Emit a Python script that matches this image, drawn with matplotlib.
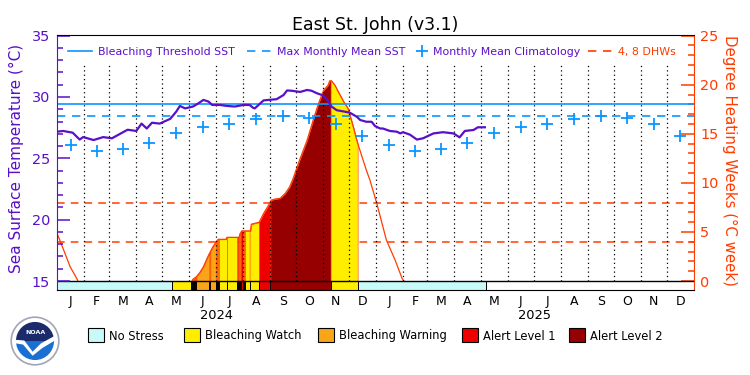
import numpy as np
import pandas as pd
import matplotlib
matplotlib.use('Agg')
import matplotlib.pyplot as plt
from matplotlib.patches import Rectangle, Circle, Wedge, Polygon
from matplotlib.ticker import MultipleLocator

# all x values are days counted from 2024-01-01
sst_days = [0, 7, 18, 26, 30, 42, 53, 63, 72, 81, 91, 97, 103, 109, 118, 124, 130, 137, 141, 147,
            156, 162, 168, 174, 178, 187, 195, 204, 214, 221, 225, 227, 237, 252, 260, 264, 269, 279,
            287, 292, 298, 304, 309, 315, 321, 329, 336, 344, 348, 355, 361, 365, 371, 374, 382, 390,
            394, 397, 405, 413, 420, 432, 443, 455, 462, 468, 478, 483, 491]
sst_vals = [27.17, 27.23, 27.09, 26.53, 26.73, 26.49, 26.73, 26.63, 26.98, 27.33, 27.23, 27.83, 27.43,
            27.90, 27.83, 28.03, 28.22, 28.82, 29.27, 29.07, 29.22, 29.47, 29.76, 29.62, 29.35, 29.35,
            29.27, 29.22, 29.35, 29.35, 29.12, 29.07, 29.72, 29.82, 30.16, 30.53, 30.51, 30.41, 30.57,
            30.51, 30.31, 30.16, 29.88, 29.22, 28.92, 28.82, 28.72, 28.39, 28.12, 27.98, 27.98, 27.63,
            27.43, 27.43, 27.23, 27.17, 27.03, 27.13, 26.93, 26.53, 26.63, 27.03, 27.13, 27.03, 26.71,
            27.23, 27.31, 27.53, 27.53]

dhw_days_early = [0, 3, 9, 15, 20, 23, 24]
dhw_early = [4.86, 4.22, 2.85, 1.47, 0.69, 0.2, 0.0]
dhw_days = [155, 156, 160, 164, 168, 171, 174, 179, 183, 185, 194, 195, 209, 210, 212, 222, 223,
            232, 237, 243, 246, 250, 256, 262, 267, 271, 273, 279, 287, 294, 300, 306, 311, 313,
            315, 319, 323, 329, 334, 340, 344, 350, 355, 359, 367, 378, 388, 396, 398]
dhw_vals = [0, 0.18, 0.44, 0.88, 1.45, 2.06, 2.65, 3.5, 4.03, 4.25, 4.25, 4.45, 4.45, 4.81, 5.11,
            5.11, 5.79, 5.99, 6.87, 7.76, 8.25, 8.35, 8.43, 8.94, 9.6, 10.46, 10.97, 12.47, 14.34,
            16.4, 18.07, 19.44, 19.93, 20.4, 20.4, 19.93, 19.25, 18.27, 17.58, 15.71, 14.34, 12.67,
            11.29, 10.31, 7.91, 4.17, 2.14, 0.27, 0]

clim = [26.09, 25.62, 25.74, 26.27, 27.03, 27.58, 27.80, 28.17, 28.42, 28.27, 27.80, 26.83]
month_letters = list('JFMAMJJASOND')
years = ['2024', '2025']
threshold = 29.42
mmm = 28.42
dhw_marks = [4, 8]

# daily stress level: 0 no stress, 1 watch, 2 warning, 3 alert 1, 4 alert 2
stress_start = [0, 132, 154, 155, 156, 157, 158, 159, 160, 175, 176, 183, 184, 185, 186, 195,
                206, 207, 208, 209, 210, 211, 214, 215, 216, 221, 232, 245, 314, 345]
stress_end = stress_start[1:] + [492]
stress_level = [0, 1, 2, 1, 1, 2, 1, 2, 2, 1, 2, 1, 2, 1, 1, 1,
                2, 1, 3, 1, 2, 3, 1, 2, 1, 1, 3, 4, 1, 0]
stress_names = ['No Stress', 'Bleaching Watch', 'Bleaching Warning', 'Alert Level 1', 'Alert Level 2']
stress_colors = ['#c8fafa', '#ffee00', '#f9a51a', '#ee0000', '#960000']

purple = '#5a0fc8'
blue = '#0a96ff'
red = '#ff3c00'

fig = plt.figure(figsize=(7.5, 3.75), dpi=100)
ax = fig.add_axes([57/750, 1-290/375, 637/750, 255/375])
ax2 = ax.twinx()
ax.set_zorder(ax2.get_zorder() + 1)
ax.patch.set_visible(False)

sst_lo, sst_hi = 14.27, 35.05
ax.set_xlim(0, 731)
ax.set_ylim(sst_lo, sst_hi)
ax2.set_ylim((sst_lo - 15) * 1.25, (sst_hi - 15) * 1.25)

month_starts = pd.date_range('2024-01-01', '2026-01-01', freq='MS')
start_days = (month_starts - month_starts[0]).days.values
mid_days = (start_days[:-1] + start_days[1:]) / 2

# DHW side (drawn underneath)
for v in dhw_marks:
    ax2.axhline(v, color=red, lw=1.1, ls=(0, (5, 4)), zorder=1)
for s, e, lvl in zip(stress_start, stress_end, stress_level):
    if lvl == 0:
        continue
    xs = np.r_[s, [d for d in dhw_days if s < d < e], e]
    ys = np.interp(xs, dhw_days, dhw_vals)
    ax2.fill_between(xs, 0, ys, facecolor=stress_colors[lvl], edgecolor=red, lw=0.4, zorder=2)
ax2.plot(dhw_days_early, dhw_early, color=red, lw=0.9, zorder=3)
ax2.plot(dhw_days, dhw_vals, color=red, lw=0.9, zorder=3)
bar_lo = (sst_lo - 15) * 1.25
for s, e, lvl in zip(stress_start, stress_end, stress_level):
    ax2.add_patch(Rectangle((s, bar_lo), e - s, -bar_lo, facecolor=stress_colors[lvl],
                            edgecolor='k', lw=0.7, zorder=4))
ax2.axhline(0, color='k', lw=1.0, zorder=5)

# SST side
ax.vlines(start_days[1:-1], 15, 32.8, colors='k', linestyles=[(0, (1, 2.5))], lw=0.9, zorder=1)
ax.axhline(threshold, color=blue, lw=1.2, zorder=2)
ax.axhline(mmm, color=blue, lw=1.2, ls=(0, (5, 4)), zorder=2)
ax.plot(mid_days, clim * 2, ls='none', marker='+', color=blue, ms=9, mew=1.3, zorder=3)
ax.plot(sst_days, sst_vals, color=purple, lw=1.6, zorder=4)

# axes styling
for sp in ax2.spines.values():
    sp.set_visible(False)
ax.spines['left'].set_color(purple)
ax.spines['right'].set_color(red)
ax.spines['top'].set_color('k')
ax.spines['bottom'].set_color('k')

ax.set_yticks([15, 20, 25, 30, 35])
ax.yaxis.set_minor_locator(MultipleLocator(1))
ax.tick_params(axis='y', which='major', direction='in', length=9.5, width=1.1,
               color=purple, labelcolor=purple, labelsize=10.4, pad=5, right=False)
ax.tick_params(axis='y', which='minor', direction='in', length=4.5, width=1.1,
               color=purple, right=False)
ax2.set_yticks([0, 5, 10, 15, 20, 25])
ax2.yaxis.set_minor_locator(MultipleLocator(1))
ax2.tick_params(axis='y', which='major', direction='in', length=9.5, width=1.1,
                color=red, labelcolor=red, labelsize=10.4, pad=4.5)
ax2.tick_params(axis='y', which='minor', direction='in', length=4.5, width=1.1, color=red)

ax.set_xticks(mid_days)
ax.set_xticklabels(month_letters * 2)
ax.tick_params(axis='x', length=0, pad=3.5, labelsize=9)
for i, yr in enumerate(years):
    fig.text((57 + 637 * (0.25 + 0.5 * i)) / 750, 1 - 319/375, yr, ha='center',
             va='baseline', fontsize=9.4)

ax.text(-0.0636, 0.5176, 'Sea Surface Temperature (°C)', transform=ax.transAxes, rotation=90,
        ha='center', va='center', rotation_mode='anchor', color=purple, fontsize=11)
ax.text(1.0565, 0.508, 'Degree Heating Weeks (°C week)', transform=ax.transAxes, rotation=270,
        ha='center', va='center', rotation_mode='anchor', color=red, fontsize=10.8)
fig.text(0.5, 1 - 29.5/375, 'East St. John (v3.1)', ha='center', va='baseline', fontsize=12.5)

# legend inside the plot
ly, ty = 0.938, 0.9216
fx = lambda px: (px - 57) / 637
ax.plot([fx(68), fx(92)], [ly, ly], transform=ax.transAxes, color=blue, lw=1.2)
ax.text(fx(98), ty, 'Bleaching Threshold SST', transform=ax.transAxes, color=purple,
        fontsize=7.9, va='baseline')
ax.plot([fx(247), fx(273)], [ly, ly], transform=ax.transAxes, color=blue, lw=1.2, ls=(0, (5, 4)))
ax.text(fx(277), ty, 'Max Monthly Mean SST', transform=ax.transAxes, color=purple,
        fontsize=7.9, va='baseline')
ax.plot([fx(422)], [ly], transform=ax.transAxes, marker='+', color=blue, ms=9, mew=1.3)
ax.text(fx(433), ty, 'Monthly Mean Climatology', transform=ax.transAxes, color=purple,
        fontsize=7.9, va='baseline')
ax.plot([fx(588), fx(612)], [ly, ly], transform=ax.transAxes, color=red, lw=1.2, ls=(0, (5, 4)))
ax.text(fx(618), ty, '4, 8 DHWs', transform=ax.transAxes, color=red, fontsize=7.9, va='baseline')

# stress legend at bottom
box_x = [88, 184, 318, 462, 569]
for bx, name, col in zip(box_x, stress_names, stress_colors):
    fig.patches.append(Rectangle((bx/750, 1 - 342/375), 16/750, 14/375, facecolor=col,
                                 edgecolor='k', lw=0.8, transform=fig.transFigure))
    fig.text((bx + 21)/750, 1 - 339.5/375, name, fontsize=8.3, va='baseline')

# NOAA logo
lax = fig.add_axes([10/750, 1 - 366/375, 50/750, 50/375])
lax.set_xlim(-1.05, 1.05)
lax.set_ylim(-1.05, 1.05)
lax.set_aspect('equal')
lax.axis('off')
lax.add_patch(Circle((0, 0), 1, facecolor='white', edgecolor='#a0a6b8', lw=1.2))
lax.add_patch(Wedge((0, 0), 0.8, 0, 180, facecolor='#1b2a6b'))
lax.add_patch(Wedge((0, 0), 0.8, 180, 360, facecolor='#1a6fd2'))
lax.add_patch(Polygon([(-0.8, 0.05), (-0.45, 0.02), (-0.1, -0.45), (0.25, -0.1), (0.8, 0.2),
                       (0.8, 0.0), (0.3, -0.3), (-0.1, -0.62), (-0.5, -0.15), (-0.8, -0.1)],
                      facecolor='white', edgecolor='none'))
lax.text(0, 0.35, 'NOAA', color='white', fontsize=4.5, ha='center', va='center', weight='bold')

fig.savefig('out.png', dpi=100)
